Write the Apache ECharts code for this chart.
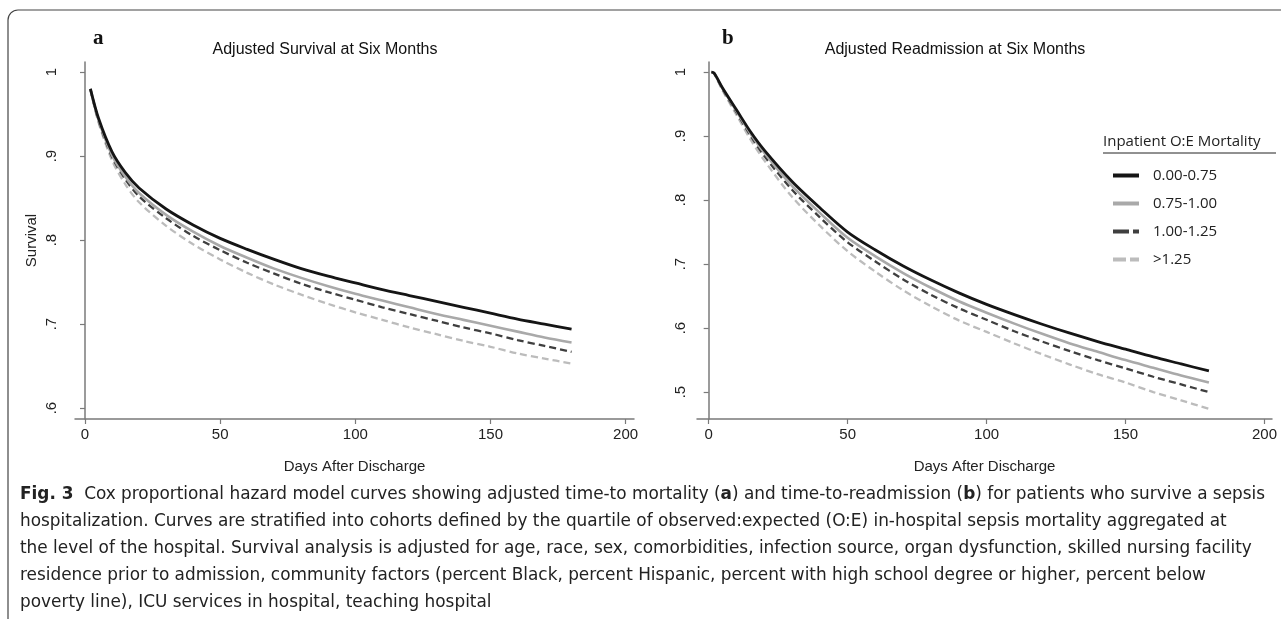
<!DOCTYPE html>
<html>
<head>
<meta charset="utf-8">
<script src="https://cdn.jsdelivr.net/npm/echarts@6/dist/echarts.min.js"></script>
<style>
  html, body { margin: 0; padding: 0; background: #fff; }
  #chart { width: 1281px; height: 619px; }
</style>
</head>
<body>
<div id="chart"></div>
<script>
// group names (legend)
const groups = ['0.00-0.75', '0.75-1.00', '1.00-1.25', '>1.25']

// panel a: adjusted survival
const daysA = [2, 5, 10, 15, 20, 30, 40, 50, 60, 70, 80, 90, 100, 110, 120, 130, 140, 150, 160, 170, 180]
const survA1 = [0.980, 0.945, 0.905, 0.880, 0.862, 0.837, 0.818, 0.802, 0.789, 0.777, 0.766, 0.757, 0.749, 0.741, 0.734, 0.727, 0.720, 0.713, 0.706, 0.700, 0.694]
const survA2 = [0.980, 0.943, 0.901, 0.875, 0.856, 0.830, 0.810, 0.793, 0.779, 0.766, 0.755, 0.745, 0.736, 0.728, 0.720, 0.712, 0.705, 0.698, 0.691, 0.684, 0.678]
const survA3 = [0.980, 0.942, 0.899, 0.872, 0.852, 0.826, 0.805, 0.788, 0.773, 0.760, 0.748, 0.738, 0.729, 0.720, 0.712, 0.704, 0.696, 0.689, 0.681, 0.674, 0.667]
const survA4 = [0.979, 0.940, 0.895, 0.866, 0.845, 0.817, 0.795, 0.777, 0.761, 0.747, 0.735, 0.724, 0.714, 0.705, 0.696, 0.688, 0.680, 0.673, 0.665, 0.659, 0.653]

// panel b: adjusted readmission
const daysB = [1, 2, 5, 10, 15, 20, 30, 40, 50, 60, 70, 80, 90, 100, 110, 120, 130, 140, 150, 160, 170, 180]
const readB1 = [1.000, 0.998, 0.975, 0.941, 0.907, 0.878, 0.829, 0.788, 0.750, 0.722, 0.697, 0.675, 0.655, 0.637, 0.621, 0.606, 0.592, 0.579, 0.567, 0.555, 0.544, 0.533]
const readB2 = [1.000, 0.998, 0.974, 0.939, 0.904, 0.874, 0.822, 0.780, 0.741, 0.712, 0.686, 0.663, 0.642, 0.624, 0.607, 0.591, 0.576, 0.563, 0.550, 0.538, 0.526, 0.515]
const readB3 = [1.000, 0.998, 0.973, 0.937, 0.901, 0.869, 0.816, 0.773, 0.734, 0.704, 0.676, 0.652, 0.631, 0.613, 0.595, 0.579, 0.564, 0.550, 0.537, 0.524, 0.512, 0.500]
const readB4 = [1.000, 0.997, 0.971, 0.933, 0.895, 0.862, 0.805, 0.760, 0.720, 0.688, 0.659, 0.634, 0.612, 0.594, 0.576, 0.559, 0.543, 0.528, 0.515, 0.500, 0.487, 0.474]

// axis ticks
const xTicks = [0, 50, 100, 150, 200]
const yTicksA = [0.6, 0.7, 0.8, 0.9, 1]
const yTicksB = [0.5, 0.6, 0.7, 0.8, 0.9, 1]

const captionLines = [
  '{b|Fig. 3}  Cox proportional hazard model curves showing adjusted time-to mortality ({b|a}) and time-to-readmission ({b|b}) for patients who survive a sepsis',
  'hospitalization. Curves are stratified into cohorts defined by the quartile of observed:expected (O:E) in-hospital sepsis mortality aggregated at',
  'the level of the hospital. Survival analysis is adjusted for age, race, sex, comorbidities, infection source, organ dysfunction, skilled nursing facility',
  'residence prior to admission, community factors (percent Black, percent Hispanic, percent with high school degree or higher, percent below',
  'poverty line), ICU services in hospital, teaching hospital'
]

const styles = [
  { color: '#151515', width: 2.8, type: 'solid' },
  { color: '#a9a9a9', width: 2.6, type: 'solid' },
  { color: '#3f3f3f', width: 2.3, type: [7, 4] },
  { color: '#bcbcbc', width: 2.3, type: [7, 4] }
]
// legend sample shapes: solid bar, or long dash + short dash
const legendIcons = [
  'rect', 'rect',
  'path://M0,0H16V4H0Z M20,0H26V4H20Z',
  'path://M0,0H13V4H0Z M17,0H26V4H17Z'
]

const pairs = (xs, ys) => xs.map((x, i) => [x, ys[i]])
const tickFmt = v => (Math.abs(v - 1) < 1e-9 ? '1' : '.' + Math.round(v * 10))

const axisFont = { fontFamily: 'Liberation Sans', fontSize: 15, color: '#222' }
const axisLine = { lineStyle: { color: '#7a7a7a', width: 1.5 } }

function xAxis(idx, min, max) {
  return {
    type: 'value', gridIndex: idx, min: min, max: max,
    name: 'Days After Discharge', nameLocation: 'middle', nameGap: 40,
    nameTextStyle: { fontFamily: 'Liberation Sans', fontSize: 15, color: '#222' },
    axisLine: axisLine,
    axisTick: { customValues: xTicks, length: 5, lineStyle: { color: '#7a7a7a', width: 1.2 } },
    axisLabel: Object.assign({ customValues: xTicks, margin: 8 }, axisFont),
    splitLine: { show: false }
  }
}

function yAxis(idx, min, max, ticks, title, margin) {
  return {
    type: 'value', gridIndex: idx, min: min, max: max,
    name: title, nameLocation: 'middle', nameGap: 36, nameRotate: 90,
    nameTextStyle: { fontFamily: 'Liberation Sans', fontSize: 15, color: '#222' },
    axisLine: axisLine,
    axisTick: { customValues: ticks, length: 5, lineStyle: { color: '#7a7a7a', width: 1.2 } },
    axisLabel: Object.assign({ customValues: ticks, rotate: 90, margin: margin, formatter: tickFmt }, axisFont),
    splitLine: { show: false }
  }
}

const seriesA = [survA1, survA2, survA3, survA4]
const seriesB = [readB1, readB2, readB3, readB4]

const series = []
seriesA.forEach((ys, i) => series.push({
  name: groups[i], type: 'line', xAxisIndex: 0, yAxisIndex: 0, smooth: 0.3,
  showSymbol: false, symbol: 'none', lineStyle: styles[i], itemStyle: { color: styles[i].color },
  data: pairs(daysA, ys), z: 10 - i
}))
seriesB.forEach((ys, i) => series.push({
  name: groups[i], type: 'line', xAxisIndex: 1, yAxisIndex: 1, smooth: 0.3,
  showSymbol: false, symbol: 'none', lineStyle: styles[i], itemStyle: { color: styles[i].color },
  data: pairs(daysB, ys), z: 10 - i
}))

const graphics = [
  { type: 'rect', shape: { x: 8, y: 10, width: 1320, height: 640, r: 10 },
    style: { fill: 'none', stroke: '#444', lineWidth: 1.2 }, silent: true },
  { type: 'text', left: 93, top: 28, style: { text: 'a', font: 'bold 21px "Liberation Serif"', fill: '#111' } },
  { type: 'text', left: 722, top: 28, style: { text: 'b', font: 'bold 21px "Liberation Serif"', fill: '#111' } },
  { type: 'text', left: 1103, top: 134, style: { text: 'Inpatient O:E Mortality', font: '15px "Open Sans"', fill: '#222' } },
  { type: 'line', shape: { x1: 1103, y1: 153, x2: 1276, y2: 153 }, style: { stroke: '#222', lineWidth: 1 } }
]
captionLines.forEach((t, i) => graphics.push({
  type: 'text', x: 20, y: 485 + i * 27, scaleX: 1.043,
  style: {
    text: t, font: '18px "DejaVu Sans Condensed"', fill: '#222',
    rich: { b: { fontWeight: 'bold', fontSize: 18, fontFamily: 'DejaVu Sans Condensed' } }
  }
}))

const chart = echarts.init(document.getElementById('chart'), null, { renderer: 'canvas' })
chart.setOption({
  animation: false,
  backgroundColor: '#fff',
  title: [
    { text: 'Adjusted Survival at Six Months', left: 320, top: 37, textAlign: 'center',
      textStyle: { fontFamily: 'Liberation Sans', fontSize: 16, fontWeight: 'normal', color: '#111' } },
    { text: 'Adjusted Readmission at Six Months', left: 950, top: 37, textAlign: 'center',
      textStyle: { fontFamily: 'Liberation Sans', fontSize: 16, fontWeight: 'normal', color: '#111' } }
  ],
  grid: [
    { left: 75, top: 62, width: 559, height: 357 },
    { left: 697, top: 62, width: 575, height: 357 }
  ],
  xAxis: [xAxis(0, -3.7, 203.1), xAxis(1, -4.2, 202.7)],
  yAxis: [yAxis(0, 0.587, 1.012, yTicksA, 'Survival', 16), yAxis(1, 0.458, 1.0156, yTicksB, '', 9)],
  legend: {
    data: groups.map((g, i) => ({ name: g, icon: legendIcons[i], itemStyle: { color: styles[i].color } })),
    orient: 'vertical', left: 1108, top: 163, itemGap: 13,
    itemWidth: 26, itemHeight: 4,
    textStyle: { fontFamily: 'Open Sans', fontSize: 15, color: '#222', padding: [0, 0, 0, 9] },
    selectedMode: false
  },
  graphic: graphics,
  series: series
})
</script>
</body>
</html>
